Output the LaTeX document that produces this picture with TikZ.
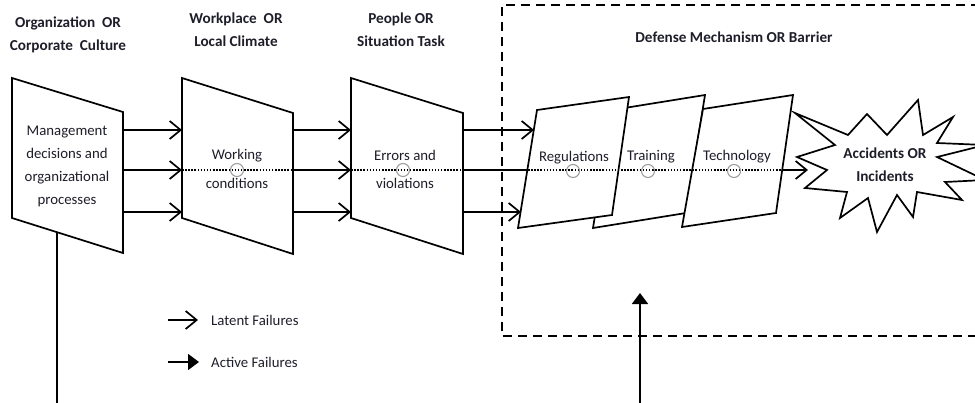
\documentclass[tikz,border=0pt]{standalone}
\usepackage{fontspec}
\setmainfont{Carlito}
\usetikzlibrary{arrows.meta}
\definecolor{ink}{HTML}{1E1E2A}
\begin{document}
\begin{tikzpicture}[x=1pt,y=-1pt,
  edge/.style={line width=1.7pt, line join=miter, fill=white},
  flow/.style={line width=1.7pt, -{Straight Barb[length=11pt,width=18pt]}},
  plain/.style={line width=1.7pt},
  active/.style={line width=1.7pt, -{Triangle[length=11pt,width=16pt]}},
  dotline/.style={line width=1.6pt, dash pattern=on 1.5pt off 1.6pt},
  frame/.style={line width=1.8pt, dash pattern=on 9pt off 6pt},
  marker/.style={circle, draw=gray!80, line width=1pt, minimum size=13pt, inner sep=0pt},
  title/.style={font=\fontsize{15.2}{22.8}\selectfont\bfseries, align=center, text=ink, inner sep=0pt},
  body/.style={font=\fontsize{14.8}{23}\selectfont, align=center, text=ink, inner sep=0pt},
]
\useasboundingbox (0,0) rectangle (975,402);
\clip (0,0) rectangle (975,402);

% column headings
\node[title] (h1) at (68,35) {Organization\ \ OR\\Corporate\ \ Culture};
\node[title] (h2) at (236,30) {Workplace\ \ OR\\Local Climate};
\node[title] (h3) at (401,30) {People OR\\Situation Task};
\node[title] (h4) at (734,37) {Defense Mechanism OR Barrier};

% defence zone
\draw[frame] (995,5) -- (502,5) -- (502,336) -- (995,336);

% the three trapezoid stages
\draw[edge] (12,78) -- (123,112) -- (123,253) -- (12,218) -- cycle;
\draw[edge] (182,78) -- (293,113) -- (293,254) -- (182,218) -- cycle;
\draw[edge] (351,78) -- (463,113) -- (463,254) -- (351,218) -- cycle;

% barrier slices (back to front)
\draw[edge] (612,110) -- (705,95) -- (686,213) -- (593,228) -- cycle;
\draw[edge] (703,109) -- (793,95) -- (776,213) -- (682,227) -- cycle;
\draw[edge] (537,110) -- (629,97) -- (612,215) -- (518,228) -- cycle;

% ports on the stage edges
\foreach \n/\y in {a/130,b/170,c/212}{
  \coordinate (s1\n) at (123,\y);
  \coordinate (t2\n) at (182,\y);
  \coordinate (s2\n) at (293,\y);
  \coordinate (t3\n) at (351,\y);
  \coordinate (s3\n) at (463,\y);
}
\coordinate (r1) at (534,130);
\coordinate (r2) at (528,170);
\coordinate (r3) at (521,212);
\coordinate (techout) at (782,170);
\coordinate (burstin) at (808,170);

% latent failure flows
\foreach \n in {a,b,c}{
  \draw[flow] (s1\n) -- (t2\n);
  \draw[flow] (s2\n) -- (t3\n);
}
\draw[flow] (s3a) -- (r1);
\draw[plain] (s3b) -- (r2);
\draw[flow] (s3c) -- (r3);

% trajectory through the holes
\draw[dotline] (t2b) -- (s2b);
\draw[dotline] (t3b) -- (s3b);
\draw[dotline] (r2) -- (techout);
\draw[flow] (techout) -- (burstin);

\node[marker] (hole1) at (237,170) {};
\node[marker] (hole2) at (403,170) {};
\node[marker] (hole3) at (573,171) {};
\node[marker] (hole4) at (648,171) {};
\node[marker] (hole5) at (734,171) {};

% stage labels
\node[body] (l1) at (67,166) {Management\\decisions and\\organizational\\processes};
\node[body] (l2a) at (237,156) {Working};
\node[body] (l2b) at (237,183) {conditions};
\node[body] (l3a) at (405,155) {Errors and};
\node[body] (l3b) at (405,183) {violations};
\node[body] (l4) at (574,158) {Regulations};
\node[body] (l5) at (651,157) {Training};
\node[body] (l6) at (737,157) {Technology};

% outcome burst
\draw[edge] (795,113) -- (848,135) -- (867,114) -- (887,135) -- (918,100)
  -- (923,135) -- (953,117) -- (937,143) -- (985,145) -- (937,157)
  -- (985,180) -- (945,182) -- (962,200) -- (917,192) -- (913,217)
  -- (897,195) -- (877,232) -- (868,198) -- (840,218) -- (847,192)
  -- (805,188) -- (827,170) -- (797,157) -- (835,145) -- cycle;
\node[title] (out) at (885,165) {Accidents OR\\Incidents};

% feedback lines
\coordinate (b1foot) at (57,232);
\coordinate (b1down) at (57,410);
\draw[plain] (b1foot) -- (b1down);
\coordinate (upfrom) at (640,410);
\coordinate (upto) at (640,293);
\draw[active] (upfrom) -- (upto);

% legend
\coordinate (k1a) at (168,320);
\coordinate (k1b) at (198,320);
\coordinate (k2a) at (168,362);
\coordinate (k2b) at (199,362);
\draw[flow] (k1a) -- (k1b);
\draw[active] (k2a) -- (k2b);
\node[body, anchor=west] (k1) at (211,320) {Latent Failures};
\node[body, anchor=west] (k2) at (211,362) {Active Failures};
\end{tikzpicture}
\end{document}
